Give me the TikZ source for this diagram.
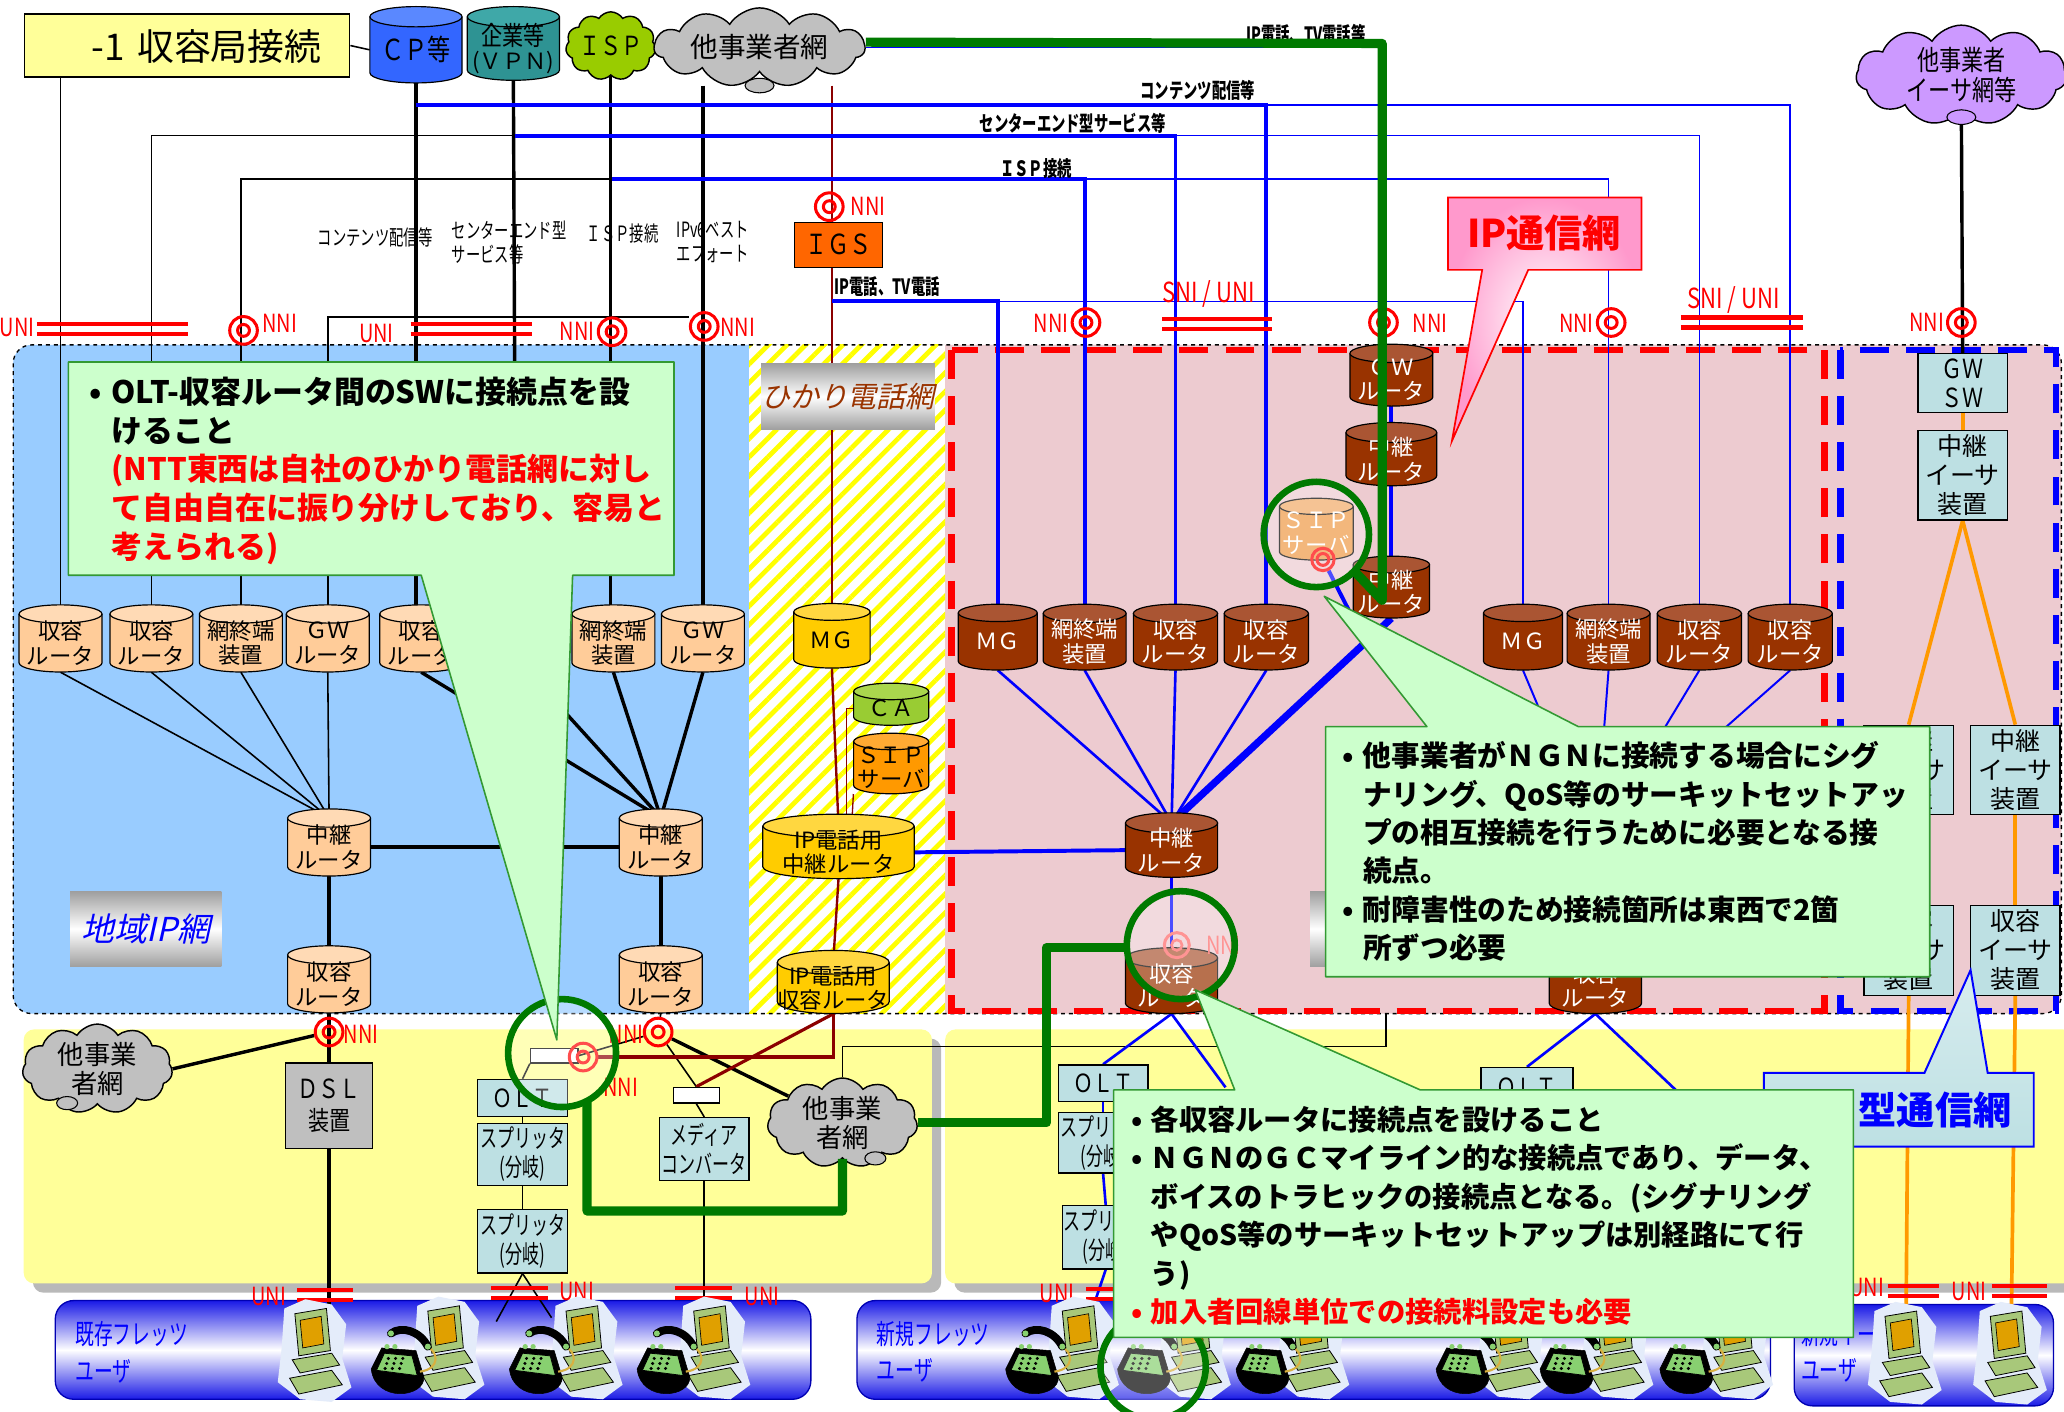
\documentclass[tikz,border=0pt]{standalone}
\usepackage{fontspec}
\setmainfont{Noto Sans CJK JP}
\newfontfamily\cond[FakeStretch=0.8]{Noto Sans CJK JP}
\newfontfamily\narrow[FakeStretch=0.68]{Noto Sans CJK JP}
\newfontfamily\slant[FakeSlant=0.22]{Noto Sans CJK JP}
\usetikzlibrary{shapes.symbols,patterns.meta}
\pgfdeclarelayer{bg}
\pgfdeclarelayer{wires}
\pgfsetlayers{bg,wires,main}

\definecolor{hdrY}{HTML}{FFFF99}
\definecolor{cpB}{HTML}{3366FF}
\definecolor{cpBt}{HTML}{5A88FF}
\definecolor{tealC}{HTML}{2E9393}
\definecolor{tealCt}{HTML}{3FA8A8}
\definecolor{ispG}{HTML}{99CC00}
\definecolor{cloudG}{HTML}{C0C0C0}
\definecolor{purp}{HTML}{CC99FF}
\definecolor{areaB}{HTML}{99CCFF}
\definecolor{areaP}{HTML}{EDCBD0}
\definecolor{peach}{HTML}{FFCC99}
\definecolor{peacht}{HTML}{FFDAB5}
\definecolor{brn}{HTML}{993300}
\definecolor{brnt}{HTML}{AA5533}
\definecolor{telY}{HTML}{FFCC00}
\definecolor{telYt}{HTML}{FFD740}
\definecolor{caG}{HTML}{99CC33}
\definecolor{caGt}{HTML}{AAD64D}
\definecolor{sipO}{HTML}{FF9900}
\definecolor{sipOt}{HTML}{FFAA33}
\definecolor{sipL}{HTML}{EE9944}
\definecolor{sipLt}{HTML}{F2AA66}
\definecolor{lcyan}{HTML}{BDE0E3}
\definecolor{callG}{HTML}{CCFFCC}
\definecolor{callGd}{HTML}{339933}
\definecolor{dred}{HTML}{8B0000}
\definecolor{lineG}{HTML}{007A00}
\definecolor{orgL}{HTML}{FF9900}
\definecolor{igsO}{HTML}{FF6600}
\definecolor{lowY}{HTML}{FFFF99}
\definecolor{pcG}{HTML}{A8C87A}
\definecolor{scrO}{HTML}{E0A000}
\definecolor{phG}{HTML}{88D070}
\definecolor{cordY}{HTML}{D8B040}
\definecolor{pinkC}{HTML}{FF99CC}
\definecolor{bandB}{HTML}{1A1AE6}
\definecolor{halo}{HTML}{E4ECFA}

\tikzset{
  cylline/.style={draw=black,line width=0.9pt},
  cyltext/.style={inner sep=0pt,align=center,font=\fontsize{17}{18.5}\selectfont},
  nnisym/.style={circle,draw=red,line width=2.3pt,minimum size=21pt,inner sep=0pt,
    path picture={\draw[red,line width=2.3pt] (path picture bounding box.center) circle[radius=4.5pt];}},
  nnitxt/.style={text=red,inner sep=0pt,font=\cond\fontsize{19}{19}\selectfont},
  unibar/.style={red,line width=3.2pt},
  thinblk/.style={black,line width=1.2pt},
  thkblk/.style={black,line width=2.6pt},
  thinblu/.style={blue,line width=1.3pt},
  thkblu/.style={blue,line width=3pt},
  telred/.style={dred,line width=1.8pt},
  grnpath/.style={lineG,line width=7pt,line join=round},
  orgline/.style={orgL,line width=2.8pt},
  ebox/.style={draw=black,line width=1pt,fill=lcyan,align=center,inner sep=0pt,font=\fontsize{19}{22}\selectfont},
  nbox/.style={ebox,font=\narrow\fontsize{19}{22}\selectfont},
  toplbl/.style={inner sep=0pt,align=left,font=\narrow\fontsize{16}{18}\selectfont},
  linelbl/.style={inner sep=0pt,font=\narrow\bfseries\fontsize{16}{16}\selectfont},
  callbox/.style={fill=callG,draw=callGd,line width=1.2pt,line join=round},
  calltext/.style={anchor=north west,inner sep=0pt,align=left,font=\bfseries\fontsize{23.5}{29.5}\selectfont},
  magring/.style={circle,draw=lineG,line width=5pt,fill=white,fill opacity=0.3,minimum size=#1,inner sep=0pt},
  bandbox/.style={rounded corners=14pt,draw=blue!70!black,line width=1pt,top color=bandB,bottom color=bandB,middle color=white},
  bandtext/.style={anchor=west,inner sep=0pt,align=left,text=blue,font=\narrow\fontsize{21}{28}\selectfont},
  cloudsh/.style={cloud,cloud puffs=11,cloud puff arc=115,draw=black,line width=1.1pt,inner sep=0pt,align=center,cloud ignores aspect},
  graylbl/.style={anchor=north west,inner sep=0pt,top color=gray!75,bottom color=gray!75,middle color=white},
  pics/pcicon/.style={code={
    \fill[halo] (-22,-30) -- (-6,-37) -- (14,-33) -- (25,-18) -- (22,8) -- (29,30) -- (14,41) -- (-10,39) -- (-27,26) -- (-24,0) -- cycle;
    \filldraw[fill=pcG,draw=black,line width=0.6pt] (-14,-26) -- (10,-30) -- (13,2) -- (-11,6) -- cycle;
    \filldraw[fill=scrO,draw=black,line width=0.5pt] (-10,-21) -- (6,-24) -- (8,-3) -- (-8,0) -- cycle;
    \filldraw[fill=pcG,draw=black,line width=0.6pt] (-16,9) -- (14,4) -- (20,13) -- (-10,19) -- cycle;
    \filldraw[fill=pcG,draw=black,line width=0.6pt] (-18,23) -- (14,17) -- (22,28) -- (-11,35) -- cycle;
  }},
  pics/phicon/.style={code={
    \filldraw[fill=black,draw=black] (-21,-2) -- (-13,-18) -- (13,-16) -- (19,4) .. controls (20,20) and (-18,24) .. (-21,-2) -- cycle;
    \filldraw[fill=phG,draw=black,line width=0.6pt] (-17,-1) -- (-11,-14) -- (10,-12) -- (14,3) -- cycle;
    \foreach \i in {0,1,2}{\foreach \j in {0,1,2}{\fill[black] (-8+5.5*\i-1.2*\j,-10+3.8*\j) circle[radius=1.3];}}
    \fill[phG] (-9,-19) circle[radius=2]; \fill[phG] (-3,-19) circle[radius=2];
    \draw[cordY,line width=1.6pt] (16,0) .. controls (32,-2) and (30,-16) .. (21,-19);
    \draw[black,line width=6pt,line cap=round] (-6,-29) .. controls (2,-35) and (16,-31) .. (22,-19);
    \fill[phG] (-6,-29) circle[radius=2.3];
    \fill[phG] (22,-19) circle[radius=2.3];
  }},
}

% database cylinder: name, x, y, width, height, body colour, top colour, text colour, text
\newcommand\dbcyl[9]{%
  \pgfmathsetmacro\cyX{#2}\pgfmathsetmacro\cyY{#3}%
  \pgfmathsetmacro\cyW{#4/2}\pgfmathsetmacro\cyH{#5/2}%
  \pgfmathsetmacro\cyR{min(#4*0.11,9)}%
  \fill[#6] (\cyX-\cyW,\cyY-\cyH+\cyR) -- (\cyX-\cyW,\cyY+\cyH-\cyR)
     arc[start angle=180,end angle=0,x radius=\cyW,y radius=\cyR] -- (\cyX+\cyW,\cyY-\cyH+\cyR) -- cycle;
  \draw[cylline] (\cyX-\cyW,\cyY-\cyH+\cyR) -- (\cyX-\cyW,\cyY+\cyH-\cyR)
     arc[start angle=180,end angle=0,x radius=\cyW,y radius=\cyR] -- (\cyX+\cyW,\cyY-\cyH+\cyR);
  \filldraw[fill=#7,cylline] (\cyX,\cyY-\cyH+\cyR) ellipse[x radius=\cyW,y radius=\cyR];
  \node[cyltext,text=#8,minimum width=#4,minimum height=#5-\cyR] (#1) at (\cyX,\cyY+\cyR/2) {#9};
}
% pair of red bars marking a UNI/SNI point
\newcommand\unipair[3]{%
  \draw[unibar] (#1,#3-3.8) -- (#2,#3-3.8);
  \draw[unibar] (#1,#3+3.8) -- (#2,#3+3.8);
}
\newcommand\bul{\makebox[0.7em][l]{•}}
\newcommand\ind{\hspace*{0.7em}}

\begin{document}
\begin{tikzpicture}[x=1pt,y=-1pt]
\useasboundingbox (0,0) rectangle (1568,1072);

% ---------------- areas
\begin{pgfonlayer}{bg}
  \fill[white] (0,0) rectangle (1568,1072);
  \fill[areaB,rounded corners=14pt] (10,262) rectangle (620,770);
  \fill[areaP,rounded corners=14pt] (690,262) rectangle (1566,770);
  \fill[white] (569,262) rectangle (718,770);
  \fill[pattern={Lines[angle=45,distance=10pt,line width=3.6pt]},pattern color=yellow] (569,262) rectangle (718,770);
  \draw[dashed,line width=1pt,rounded corners=14pt] (10,262) rectangle (1566,770);
  \draw[red,line width=5pt,dash pattern=on 22pt off 13pt] (723,266) rectangle (1386,768);
  \draw[blue,line width=5pt,dash pattern=on 22pt off 13pt] (1398,266) rectangle (1562,768);
  % access areas
  \fill[gray!55,rounded corners=8pt] (25,789) rectangle (715,982);
  \fill[lowY,rounded corners=8pt] (18,782) rectangle (708,975);
  \fill[gray!55,rounded corners=8pt] (725,789) rectangle (1580,982);
  \fill[lowY,rounded corners=8pt] (718,782) rectangle (1575,975);
  % user bands
  \path[bandbox] (42,988) rectangle (616,1063);
  \path[bandbox] (651,988) rectangle (1345,1063);
  \path[bandbox] (1363,991) rectangle (1560,1068);
\end{pgfonlayer}

% ---------------- header and outside networks
\node[draw=black,line width=1.2pt,fill=hdrY,anchor=north west,minimum width=247,minimum height=48,inner sep=0pt] (hdr) at (18,10) {};
\node[inner sep=0pt,font=\fontsize{28}{28}\selectfont] (hdrt) at (157,35) {-1\,\,収容局接続};
\dbcyl{cp}{316}{34}{70}{58}{cpB}{cpBt}{black}{\cond\fontsize{22}{22}\selectfont ＣＰ等}
\dbcyl{vpn}{390}{33}{70}{56}{tealC}{tealCt}{black}{\cond\fontsize{20}{21}\selectfont 企業等\\(ＶＰＮ)}
\node[cloudsh,fill=ispG,minimum width=58,minimum height=52,font=\cond\fontsize{20}{20}\selectfont] (isp) at (464,35) {ＩＳＰ};
\node[cloudsh,fill=cloudG,minimum width=160,minimum height=60,font=\fontsize{21}{21}\selectfont] (oc1) at (577,36) {他事業者網};
\filldraw[fill=cloudG,draw=black,line width=0.8pt] (577,65) ellipse[x radius=11,y radius=5.5];
\node[cloudsh,fill=purp,minimum width=160,minimum height=62,font=\cond\fontsize{21}{23}\selectfont] (oc2) at (1490,57) {他事業者\\イーサ網等};
\filldraw[fill=purp,draw=black,line width=0.8pt] (1490,89) ellipse[x radius=11,y radius=5.5];

% ---------------- regional IP network
\node[graylbl,minimum width=115,minimum height=57,text=blue,font=\slant\fontsize{25}{25}\selectfont] (lblA) at (53,677) {地域IP網};
\dbcyl{rtA}{46}{485}{63}{51}{peach}{peacht}{black}{収容\\ルータ}
\dbcyl{rtB}{115}{485}{63}{51}{peach}{peacht}{black}{収容\\ルータ}
\dbcyl{tmA}{183}{485}{63}{51}{peach}{peacht}{black}{網終端\\装置}
\dbcyl{gwA}{249}{485}{63}{51}{peach}{peacht}{black}{ＧＷ\\ルータ}
\dbcyl{rtE}{320}{485}{63}{51}{peach}{peacht}{black}{収容\\ルータ}
\dbcyl{tmB}{466}{485}{63}{51}{peach}{peacht}{black}{網終端\\装置}
\dbcyl{gwB}{534}{485}{63}{51}{peach}{peacht}{black}{ＧＷ\\ルータ}
\dbcyl{rlyA}{250}{640}{63}{51}{peach}{peacht}{black}{中継\\ルータ}
\dbcyl{rlyB}{502}{640}{63}{51}{peach}{peacht}{black}{中継\\ルータ}
\dbcyl{acA}{250}{744}{63}{51}{peach}{peacht}{black}{収容\\ルータ}
\dbcyl{acB}{502}{744}{63}{51}{peach}{peacht}{black}{収容\\ルータ}
\coordinate (hidA) at (392,500);

% ---------------- hikari telephone network
\node[graylbl,minimum width=118,minimum height=50,text=brn,font=\slant\fontsize{22}{22}\selectfont] (lblB) at (578,276) {ひかり電話網};
\node[draw=black,line width=1pt,fill=igsO,minimum width=67,minimum height=34,inner sep=0pt,font=\cond\fontsize{21}{21}\selectfont] (igs) at (637,186) {ＩＧＳ};
\dbcyl{mgT}{632}{483}{58}{49}{telY}{telYt}{black}{ＭＧ}
\dbcyl{caT}{677}{535}{57}{32}{caG}{caGt}{black}{ＣＡ}
\dbcyl{sipT}{677}{580}{57}{46}{sipO}{sipOt}{black}{ＳＩＰ\\サーバ}
\dbcyl{ipr}{637}{643}{115}{49}{telY}{telYt}{black}{IP電話用\\中継ルータ}
\dbcyl{ipa}{633}{746}{85}{48}{telY}{telYt}{black}{IP電話用\\収容ルータ}

% ---------------- NGN IP network
\node[graylbl,minimum width=65,minimum height=57] (lblC) at (995,677) {};
\dbcyl{gwP}{1057}{285}{63}{47}{brn}{brnt}{white}{ＧＷ\\ルータ}
\dbcyl{rlyC2}{1057}{345}{69}{48}{brn}{brnt}{white}{中継\\ルータ}
\dbcyl{sipP}{1000}{402}{56}{47}{sipL}{sipLt}{white}{ＳＩＰ\\サーバ}
\dbcyl{rlyC3}{1057}{446}{58}{47}{brn}{brnt}{white}{中継\\ルータ}
\dbcyl{mgP}{758}{484}{60}{50}{brn}{brnt}{white}{ＭＧ}
\dbcyl{tmP}{824}{484}{63}{50}{brn}{brnt}{white}{網終端\\装置}
\dbcyl{rtP2}{893}{484}{64}{50}{brn}{brnt}{white}{収容\\ルータ}
\dbcyl{rtP3}{962}{484}{64}{50}{brn}{brnt}{white}{収容\\ルータ}
\dbcyl{mgQ}{1157}{484}{60}{50}{brn}{brnt}{white}{ＭＧ}
\dbcyl{tmQ}{1222}{484}{63}{50}{brn}{brnt}{white}{網終端\\装置}
\dbcyl{rtQ3}{1291}{484}{64}{50}{brn}{brnt}{white}{収容\\ルータ}
\dbcyl{rtQ4}{1360}{484}{64}{50}{brn}{brnt}{white}{収容\\ルータ}
\dbcyl{rlyP}{890}{642}{70}{49}{brn}{brnt}{white}{中継\\ルータ}
\dbcyl{acP}{890}{745}{70}{50}{brn}{brnt}{white}{収容\\ルータ}
\dbcyl{acQ}{1212}{745}{70}{50}{brn}{brnt}{white}{収容\\ルータ}
\coordinate (rlyQ) at (1212,640);

% ---------------- Ethernet network
\node[ebox,font=\cond\fontsize{20}{22}\selectfont,minimum width=68,minimum height=45] (gwsw) at (1491,291) {ＧＷ\\ＳＷ};
\node[ebox,minimum width=68,minimum height=68] (eth1) at (1491,361) {中継\\イーサ\\装置};
\node[ebox,minimum width=68,minimum height=68] (ethA) at (1450,585) {中継\\イーサ\\装置};
\node[ebox,minimum width=68,minimum height=68] (ethB) at (1531,585) {中継\\イーサ\\装置};
\node[ebox,minimum width=68,minimum height=68] (ethC) at (1450,722) {収容\\イーサ\\装置};
\node[ebox,minimum width=68,minimum height=68] (ethD) at (1531,722) {収容\\イーサ\\装置};

% ---------------- access side
\node[cloudsh,fill=cloudG,minimum width=114,minimum height=64,font=\fontsize{20}{22}\selectfont] (oc3) at (74,812) {他事業\\者網};
\filldraw[fill=cloudG,draw=black,line width=0.8pt] (51,838) ellipse[x radius=8,y radius=5];
\node[cloudsh,fill=cloudG,minimum width=114,minimum height=64,font=\fontsize{20}{22}\selectfont] (oc4) at (640,853) {他事業\\者網};
\filldraw[fill=cloudG,draw=black,line width=0.8pt] (665,880) ellipse[x radius=8,y radius=5];
\node[ebox,fill=gray!50,font=\cond\fontsize{20}{24}\selectfont,minimum width=66,minimum height=65] (dsl) at (250,840) {ＤＳＬ\\装置};
\node[ebox,font=\cond\fontsize{19}{22}\selectfont,minimum width=68,minimum height=28] (olt) at (397,834) {ＯＬＴ};
\node[nbox,minimum width=68,minimum height=47] (spl1) at (397,877) {スプリッタ\\(分岐)};
\node[nbox,minimum width=68,minimum height=48] (spl2) at (397,943) {スプリッタ\\(分岐)};
\node[nbox,minimum width=68,minimum height=48] (mc) at (535,873) {メディア\\コンバータ};
\node[draw=black,line width=1pt,fill=white,minimum width=36,minimum height=11,inner sep=0pt] (sw) at (421,802) {};
\node[draw=black,line width=1pt,fill=white,minimum width=35,minimum height=12,inner sep=0pt] (mcw) at (529,832) {};
\node[ebox,font=\cond\fontsize{19}{22}\selectfont,minimum width=68,minimum height=28] (oltP) at (838,823) {ＯＬＴ};
\node[nbox,minimum width=68,minimum height=46] (splP1) at (838,868) {スプリッタ\\(分岐)};
\node[nbox,minimum width=66,minimum height=48] (splP2) at (840,940) {スプリッタ\\(分岐)};
\node[ebox,font=\cond\fontsize{19}{22}\selectfont,minimum width=70,minimum height=30] (oltQ) at (1160,826) {ＯＬＴ};
\coordinate (uA) at (250,996);
\coordinate (uB1) at (377,1004);
\coordinate (uB2) at (419,1001);
\coordinate (uC) at (535,996);
\coordinate (uP) at (826,1006);
\coordinate (uE) at (1448,1000);
\coordinate (uF) at (1528,1000);
\coordinate (hidP) at (931,826);
\coordinate (hidQ) at (1273,828);

% ---------------- connection points
\node[nnisym] (nL1) at (185,251) {};
\node[nnisym] (nL2) at (465,252) {};
\node[nnisym] (nL3) at (535,248) {};
\node[nnisym] (nIG) at (630,157) {};
\node[nnisym] (nP1) at (825,245) {};
\node[nnisym] (nP2) at (1051,245) {};
\node[nnisym] (nP3) at (1224,245) {};
\node[nnisym] (nR1) at (1490,245) {};
\node[nnisym] (nB1) at (250,784) {};
\node[nnisym] (nB2) at (500,784) {};
\node[nnisym] (nB3) at (443,803) {};
\node[nnisym,minimum size=17pt] (nS) at (1005,425) {};
\node[nnisym,draw=red!60,minimum size=19pt,path picture={\draw[red!60,line width=2pt] (path picture bounding box.center) circle[radius=4pt];}] (nQ) at (894,718) {};

\node[nnitxt,anchor=west] (tL1) at (199,246) {NNI};
\node[nnitxt,anchor=east] (tL2) at (452,252) {NNI};
\node[nnitxt,anchor=west] (tL3) at (547,249) {NNI};
\node[nnitxt,anchor=west] (tIG) at (646,157) {NNI};
\node[nnitxt,anchor=east] (tP1) at (812,246) {NNI};
\node[nnitxt,anchor=west] (tP2) at (1073,246) {NNI};
\node[nnitxt,anchor=east] (tP3) at (1211,246) {NNI};
\node[nnitxt,anchor=east] (tR1) at (1477,245) {NNI};
\node[nnitxt,anchor=west] (tB1) at (261,786) {NNI};
\node[nnitxt,anchor=east] (tB2) at (489,786) {NNI};
\node[nnitxt,anchor=west] (tB3) at (458,826) {NNI};
\node[nnitxt,text=red!60,anchor=west] (tQ) at (916,718) {NNI};

\node[nnitxt] (uT1) at (13,249) {UNI};
\node[nnitxt] (uT2) at (286,253) {UNI};
\node[nnitxt,font=\cond\fontsize{21}{21}\selectfont] (uT3) at (918,223) {SNI / UNI};
\node[nnitxt,font=\cond\fontsize{21}{21}\selectfont] (uT4) at (1317,228) {SNI / UNI};
\node[nnitxt] (uT5) at (204,985) {UNI};
\node[nnitxt] (uT6) at (438,981) {UNI};
\node[nnitxt] (uT7) at (579,985) {UNI};
\node[nnitxt] (uT8) at (803,983) {UNI};
\node[nnitxt] (uT9) at (1418,978) {UNI};
\node[nnitxt] (uT10) at (1496,981) {UNI};

% ---------------- service labels
\node[toplbl] (tA) at (285,180) {コンテンツ配信等};
\node[toplbl,anchor=west] (tB) at (343,184) {センターエンド型\\サービス等};
\node[toplbl] (tC) at (473,177) {ＩＳＰ接続};
\node[toplbl,anchor=west] (tD) at (514,184) {IPv6ベスト\\エフォート};
\node[linelbl] (bA) at (992,26) {IP電話、TV電話等};
\node[linelbl] (bB) at (910,69) {コンテンツ配信等};
\node[linelbl] (bC) at (815,94) {センターエンド型サービス等};
\node[linelbl] (bD) at (787,128) {ＩＳＰ接続};
\node[linelbl,anchor=west] (bE) at (634,218) {IP電話、TV電話};

% ---------------- links
\begin{pgfonlayer}{wires}
  \draw[thinblk] (hdr.east) -- (cp.west);
  \draw[thinblk] (hdr.south -| rtA.north) -- (rtA.north);
  \draw[thinblk] (rtB.north) |- (391,103);
  \draw[thinblk] (tmA.north) |- (465,136);
  \draw[thinblk] (gwA.north) |- ([yshift=7pt]nL3.west);
  \draw[thkblk] (cp.south) -- (cp.south |- rtE.north);
  \draw[thkblk] (vpn.south) -- (hidA);
  \draw[thkblk] (isp.south) -- (isp.south |- tmB.north);
  \draw[thkblk] (oc1.240 -| gwB.north) -- (gwB.north);
  \draw[telred] (oc1.300 -| mgT.north) -- (mgT.north);
  \draw[telred] (mgT.south) -- (ipr.north);
  \draw[telred] (ipr.south) -- (ipa.north);
  \draw[dred,line width=1pt] (caT.west) -| ([xshift=6pt]ipr.north);
  \draw[dred,line width=1pt] (sipT.south west) -- ([xshift=10pt]ipr.north);
  % services towards the NGN
  \draw[thinblu] (oc1.east) -| ([xshift=-4pt]gwP.north);
  \draw[thkblu] (316,80) -| (rtP3.north);
  \draw[thinblu] (962,80) -| (rtQ4.north);
  \draw[thkblu] (391,103) -| (rtP2.north);
  \draw[thinblu] (893,103) -| (rtQ3.north);
  \draw[thkblu] (465,136) -| (tmP.north);
  \draw[thinblu] (824,136) -| (tmQ.north);
  \draw[thkblu] (632,229) -| (mgP.north);
  \draw[thinblu] (758,229) -| (mgQ.north);
  % regional IP network
  \foreach \s in {rtA,rtB,tmA,gwA} \draw[thinblk] (\s.south) -- (rlyA.north);
  \draw[thkblk] (rtE.south) -- (rlyB.north);
  \draw[thkblk] (hidA) -- (rlyB.north);
  \draw[thkblk] (tmB.south) -- (rlyB.north);
  \draw[thkblk] (gwB.south) -- (rlyB.north);
  \draw[thkblk] (rlyA.east) -- (rlyB.west);
  \draw[thkblk] (rlyA.south) -- (acA.north);
  \draw[thkblk] (rlyB.south) -- (acB.north);
  % NGN
  \foreach \s in {mgP,tmP,rtP2,rtP3} \draw[blue,line width=2pt] (\s.south) -- (rlyP.north);
  \foreach \s in {mgQ,tmQ,rtQ3,rtQ4} \draw[blue,line width=1.5pt] (\s.south) -- (rlyQ);
  \draw[blue,line width=5.5pt] (rlyP.north) -- (rlyC3.south);
  \draw[thkblu] (gwP.south) -- (rlyC2.north);
  \draw[thkblu] (rlyC2.south) -- (rlyC3.north);
  \draw[thkblu] (nS) -- (rlyC3.south west);
  \draw[thkblu] (ipr.east) -- (rlyP.west);
  \draw[blue,line width=2pt] (rlyP.south) -- (acP.north);
  % Ethernet
  \draw[thkblk] (oc2.south) -- (gwsw.north);
  \draw[orgline] (gwsw.south) -- (eth1.north);
  \draw[orgline] (eth1.south) -- (ethA.north);
  \draw[orgline] (eth1.south) -- (ethB.north);
  \draw[orgline] (ethA.south) -- (ethC.north);
  \draw[orgline] (ethB.south) -- (ethD.north);
  \draw[orgline] (ethC.south) -- (uE);
  \draw[orgline] (ethD.south) -- (uF);
  % access, existing users
  \draw[thkblk] (oc3.east) -- (nB1);
  \draw[thkblk] (acA.south) -- (dsl.north);
  \draw[thkblk] (dsl.south) -- (uA);
  \draw[thinblk] (acB.south) -- (nB2);
  \draw[thkblk] (nB2) -- (oc4);
  \draw[thinblk] (nB2) -- (mcw.north);
  \draw[thinblk] (sw.east) -- (nB2);
  \draw[thinblk] (sw.south west) -- (olt.north);
  \draw[thinblk] (olt.south) -- (spl1.north);
  \draw[thinblk] (spl1.south) -- (spl2.north);
  \draw[thinblk] (spl2.south) -- (uB1);
  \draw[thinblk] (spl2.south) -- (uB2);
  \draw[thinblk] (mcw.south) -- (mc.north);
  \draw[thinblk] (mc.south) -- (uC);
  \draw[telred,line width=2.4pt] (ipa.south) |- (nB3.east);
  \draw[telred,line width=2.4pt] (ipa.south) -- (mcw.north);
  \draw[thinblk] (oc4.north) |- (1053,795) -- (1053,770);
  % access, new users
  \draw[blue,line width=2pt] (acP.south) -- (oltP.north);
  \draw[blue,line width=2pt] (acP.south) -- (hidP);
  \draw[blue,line width=2pt] (oltP.south) -- (splP1.north);
  \draw[blue,line width=2pt] (splP1.south) -- (splP2.north);
  \draw[blue,line width=2pt] (splP2.south) -- (uP);
  \draw[blue,line width=2pt] (acQ.south) -- (oltQ.north);
  \draw[blue,line width=2pt] (acQ.south) -- (hidQ);
\end{pgfonlayer}

% ---------------- UNI / SNI bars
\unipair{28}{143}{250}
\unipair{312}{404}{250}
\unipair{883}{966}{246}
\unipair{1277}{1370}{245}
\unipair{226}{268}{984}
\unipair{373}{416}{982}
\unipair{513}{556}{982}
\unipair{825}{850}{983}
\unipair{1434}{1473}{981}
\unipair{1513}{1555}{981}

% ---------------- users
\node[bandtext] (bt1) at (57,1027) {既存フレッツ\\ユーザ};
\node[bandtext] (bt2) at (666,1027) {新規フレッツ\\ユーザ};
\node[bandtext] (bt3) at (1368,1027) {新規イーサ\\ユーザ};
\pic at (238,1024) {pcicon};
\foreach \p in {303,408,505,785,870,960,1112,1191,1282} {
  \pic at (\p+36,1022) {pcicon};
  \pic at (\p,1042) {phicon};
}
\pic at (1446,1026) {pcicon};
\pic at (1526,1026) {pcicon};

% ---------------- interconnection routes
\draw[grnpath] ([yshift=4pt]oc1.east) -- (1050,33) -- (1050,456) -- (1027,432);
\node[magring=80] (mag1) at (1000,406) {};
\draw[grnpath] (446,836) -- (446,920) -- (640,920) -- (oc4.south);
\node[magring=82] (mag3) at (427,800) {};
\draw[grnpath] (oc4.east) -| (795,720) -- (856,720);
\node[magring=82] (mag2) at (897,718) {};
\node[magring=80] (mag4) at (876,1038) {};

% ---------------- network name tags
\path[draw=red,line width=1.3pt,inner color=white,outer color=pinkC]
  (1100,150) -- (1247,150) -- (1247,205) -- (1161,205) -- (1103,335) -- (1126,205) -- (1100,205) -- cycle;
\node[text=red,font=\bfseries\fontsize{29}{29}\selectfont,inner sep=0pt] (ipnet) at (1173,177) {IP通信網};
\path[draw=blue,line width=1.5pt,top color=lcyan!60!white,bottom color=lcyan]
  (1340,815) -- (1462,815) -- (1497,737) -- (1510,815) -- (1545,815) -- (1545,871) -- (1340,871) -- cycle;
\node[text=blue,font=\bfseries\fontsize{29}{29}\selectfont,inner sep=0pt] (ethnet) at (1470,843) {型通信網};

% ---------------- notes
\path[callbox] (52,275) -- (512,275) -- (512,437) -- (435,437) -- (423,790) -- (320,437) -- (52,437) -- cycle;
\node[calltext] (c1t) at (68,286) {%
\bul OLT-収容ルータ間のSWに接続点を設\\
\ind けること\\
\ind\textcolor{red}{(NTT東西は自社のひかり電話網に対し}\\
\ind\textcolor{red}{て自由自在に振り分けしており、容易と}\\
\ind\textcolor{red}{考えられる)}};

\path[callbox] (1007,552) -- (1084,552) -- (1006,453) -- (1199,552) -- (1466,552) -- (1466,742) -- (1007,742) -- cycle;
\node[calltext,font=\bfseries\fontsize{21.8}{29.2}\selectfont] (c2t) at (1020,563) {%
\bul 他事業者がＮＧＮに接続する場合にシグ\\
\ind ナリング、QoS等のサーキットセットアッ\\
\ind プの相互接続を行うために必要となる接\\
\ind 続点。\\
\bul 耐障害性のため接続箇所は東西で2箇\\
\ind 所ずつ必要};

\path[callbox] (846,828) -- (938,828) -- (908,752) -- (1079,828) -- (1408,828) -- (1408,1016) -- (846,1016) -- cycle;
\node[calltext,font=\bfseries\fontsize{21.5}{29.2}\selectfont] (c3t) at (859,840) {%
\bul 各収容ルータに接続点を設けること\\
\bul ＮＧＮのＧＣマイライン的な接続点であり、データ、\\
\ind ボイスのトラヒックの接続点となる。(シグナリング\\
\ind やQoS等のサーキットセットアップは別経路にて行\\
\ind う)\\
\textcolor{red}{\bul 加入者回線単位での接続料設定も必要}};
\end{tikzpicture}
\end{document}
